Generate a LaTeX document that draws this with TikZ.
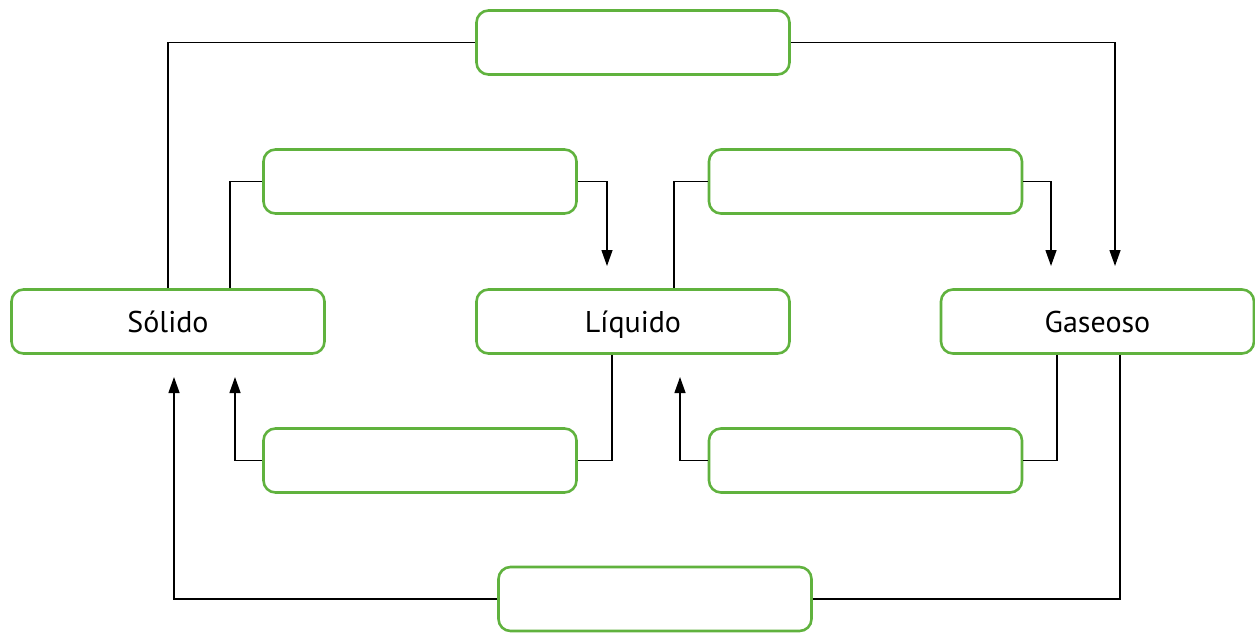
\documentclass[tikz,border=0pt]{standalone}
\usepackage{fontspec}
\setmainfont{PT Sans}
\usetikzlibrary{arrows.meta}
\definecolor{boxgreen}{RGB}{96,178,62}
\tikzset{
  box/.style={draw=boxgreen, fill=white, line width=2.6pt, rounded corners=12pt,
    minimum width=313pt, minimum height=64pt, inner sep=0pt,
    text height=26pt, text depth=4pt,
    font=\fontsize{30}{36}\selectfont},
  conn/.style={line width=1.3pt, draw=black},
  arr/.style={conn, -{Triangle[length=16pt,width=11pt]}}
}
\begin{document}
\begin{tikzpicture}[x=1pt,y=-1pt]
\useasboundingbox (0,0) rectangle (1255,632);
\node[box] (top) at (633,42.5) {};
\node[box] (ul) at (420,181.5) {};
\node[box] (ur) at (865.5,181.5) {};
\node[box] (sol) at (168,321.5) {Sólido};
\node[box] (liq) at (633,321.5) {Líquido};
\node[box] (gas) at (1097.5,321.5) {Gaseoso};
\node[box] (ll) at (420,460.5) {};
\node[box] (lr) at (865.5,460.5) {};
\node[box] (bot) at (655,599) {};
\coordinate (aG1) at (1115,266);
\coordinate (aL1) at (607,266);
\coordinate (aG2) at (1051,266);
\coordinate (aS2) at (235,377);
\coordinate (aL2) at (680,377);
\coordinate (aS1) at (174,377);
\draw[conn] (sol.north) |- (top.west);
\draw[arr] (top.east) -| (aG1);
\draw[conn] ([xshift=62pt]sol.north) |- (ul.west);
\draw[arr] (ul.east) -| (aL1);
\draw[conn] ([xshift=41pt]liq.north) |- (ur.west);
\draw[arr] (ur.east) -| (aG2);
\draw[conn] ([xshift=-21pt]liq.south) |- (ll.east);
\draw[arr] (ll.west) -| (aS2);
\draw[conn] ([xshift=-40.5pt]gas.south) |- (lr.east);
\draw[arr] (lr.west) -| (aL2);
\draw[conn] ([xshift=22.5pt]gas.south) |- (bot.east);
\draw[arr] (bot.west) -| (aS1);
\end{tikzpicture}
\end{document}
